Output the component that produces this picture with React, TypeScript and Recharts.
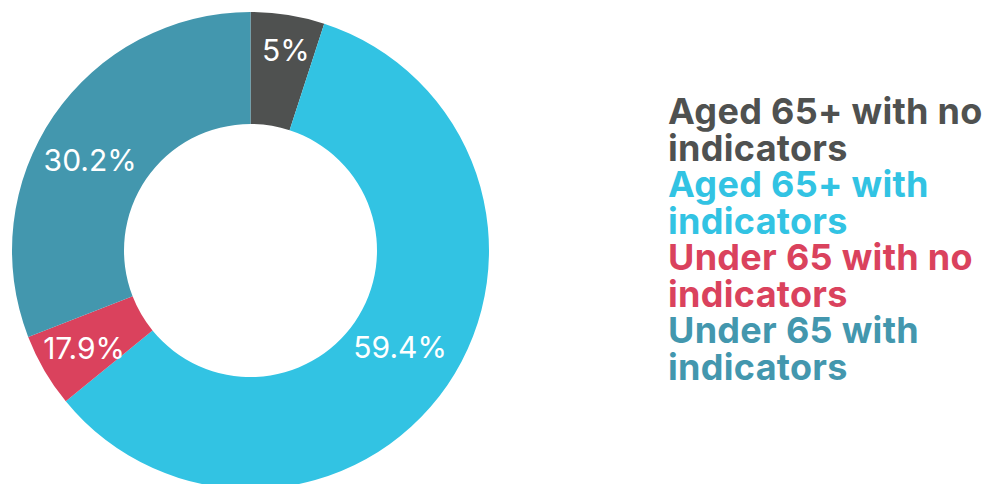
import { PieChart, Pie, Cell, Legend } from 'recharts'

const categories = [
  'Aged 65+ with no indicators',
  'Aged 65+ with indicators',
  'Under 65 with no indicators',
  'Under 65 with indicators',
]
// slice sizes as drawn in the picture
const shares = [5, 59.1, 5, 30.9]
// labels printed on the slices
const shareLabels = ['5%', '59.4%', '17.9%', '30.2%']

const COLORS = ['#4f5150', '#32c3e3', '#da425d', '#4397ae']
// label placement: distance from centre and clockwise nudge (deg) off the mid angle
const LABEL_R = [204, 178, 193, 184]
const LABEL_NUDGE = [1, -1.6, -0.2, -5]
const FONT = 'Inter, "Noto Sans", sans-serif'

const data = categories.map((name, i) => ({ name, value: shares[i], label: shareLabels[i] }))

const RAD = Math.PI / 180

function SliceLabel(props: any) {
  const { cx, cy, midAngle, index } = props
  const r = LABEL_R[index]
  const a = midAngle - LABEL_NUDGE[index]
  const x = cx + r * Math.cos(-a * RAD)
  const y = cy + r * Math.sin(-a * RAD)
  return (
    <text x={x} y={y} fill="#fff" textAnchor="middle" dominantBaseline="central"
      style={{ fontFamily: FONT, fontSize: 30, fontWeight: 400 }}>
      {data[index].label}
    </text>
  )
}

function LegendList() {
  return (
    <div style={{ fontFamily: FONT, fontSize: 36, fontWeight: 700, lineHeight: '36.5px', letterSpacing: 0.3 }}>
      {data.map((d, i) => (
        <div key={d.name} style={{ color: COLORS[i] }}>{d.name}</div>
      ))}
    </div>
  )
}

export default function App() {
  return (
    <div style={{ position: 'absolute', left: 0, top: 0, width: 986, height: 484, background: '#fff' }}>
      <PieChart width={986} height={484} margin={{ top: 0, right: 0, bottom: 0, left: 0 }}>
        <Pie
          data={data}
          dataKey="value"
          nameKey="name"
          cx={250.5}
          cy={250.5}
          innerRadius={126.5}
          outerRadius={238.5}
          startAngle={90}
          endAngle={-270}
          stroke="none"
          label={SliceLabel}
          labelLine={false}
          isAnimationActive={false}
        >
          {data.map((d, i) => <Cell key={d.name} fill={COLORS[i]} />)}
        </Pie>
        <Legend
          content={<LegendList />}
          wrapperStyle={{ position: 'absolute', left: 668, top: 93, width: 318 }}
        />
      </PieChart>
    </div>
  )
}
